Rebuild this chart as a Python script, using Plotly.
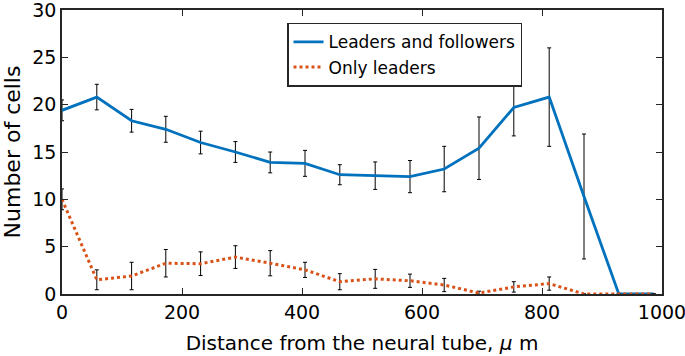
import plotly.graph_objects as go

# Data
distance = [0, 58, 116, 173, 231, 289, 347, 405, 463, 522, 580, 637, 695, 753, 812, 870, 928, 986]

leaders_followers = [19.4, 20.8, 18.3, 17.4, 16.0, 15.0, 13.9, 13.8, 12.6, 12.5, 12.4, 13.2, 15.4, 19.7, 20.8, 10.3, 0.0, 0.0]
leaders_followers_err = [1.1, 1.35, 1.2, 1.37, 1.2, 1.1, 1.1, 1.37, 1.06, 1.45, 1.7, 2.4, 3.3, 3.0, 5.2, 6.6, None, None]

only_leaders = [10.0, 1.5, 1.9, 3.25, 3.2, 3.9, 3.25, 2.55, 1.3, 1.6, 1.4, 0.95, 0.1, 0.75, 1.1, 0.0, 0.0, 0.0]
only_leaders_err = [1.1, 1.05, 1.45, 1.45, 1.25, 1.2, 1.33, 0.8, 0.85, 1.0, 0.7, 0.7, 0.2, 0.55, 0.7, None, None, None]

x_ticks = [0, 200, 400, 600, 800, 1000]
y_ticks = [0, 5, 10, 15, 20, 25, 30]

FONT = "DejaVu Sans"
TXT = "#262626"

fig = go.Figure()
fig.add_trace(go.Scatter(
    x=distance, y=leaders_followers, mode="lines", name="Leaders and followers",
    line=dict(color="#0072BD", width=2.8),
    error_y=dict(type="data", array=leaders_followers_err, visible=True,
                 color="black", thickness=1, width=2),
))
fig.add_trace(go.Scatter(
    x=distance, y=only_leaders, mode="lines", name="Only leaders",
    line=dict(color="#D95319", width=3, dash="dot"),
    error_y=dict(type="data", array=only_leaders_err, visible=True,
                 color="black", thickness=1, width=2),
))

axis_common = dict(
    showline=True, linecolor=TXT, linewidth=1.5, mirror="ticks",
    ticks="inside", ticklen=6, tickwidth=1.2, tickcolor=TXT,
    showgrid=False, zeroline=False, automargin=False,
    ticklabeloverflow="allow",
    tickfont=dict(family=FONT, size=19, color="black"),
)

fig.update_xaxes(
    range=[0, 1000], tickvals=x_ticks, ticktext=[str(v) for v in x_ticks],
    title=dict(text="Distance from the neural tube, <i>μ</i> m",
               font=dict(family=FONT, size=20, color="black"), standoff=14),
    **axis_common,
)
fig.update_yaxes(
    range=[0, 30], tickvals=y_ticks, ticktext=[str(v) for v in y_ticks],
    title=dict(text="Number of cells",
               font=dict(family=FONT, size=22, color="black"), standoff=11),
    **axis_common,
)

fig.update_layout(
    width=685, height=356,
    margin=dict(l=62, r=23, t=10, b=62),
    plot_bgcolor="white", paper_bgcolor="white",
    showlegend=True,
    legend=dict(
        x=0.375, y=0.955, xanchor="left", yanchor="top",
        bgcolor="white", bordercolor=TXT, borderwidth=1.5,
        font=dict(family=FONT, size=17, color="black"),
        itemwidth=30, tracegroupgap=0,
    ),
)

fig.write_html("out.html", config={"displayModeBar": False},
               post_script="document.body.style.margin='0';")
